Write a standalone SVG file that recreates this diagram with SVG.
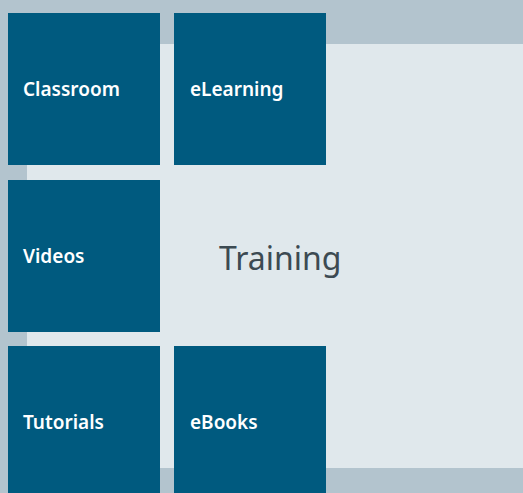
<svg xmlns="http://www.w3.org/2000/svg" width="523" height="493" viewBox="0 0 523 493">
<style>
.tile{fill:#005a7f}
.lbl{font-family:"Noto Sans","Open Sans",sans-serif;font-size:19px;font-weight:600;fill:#ffffff}
.title{font-family:"Noto Sans","Open Sans",sans-serif;font-size:32px;fill:#3c4a52}
</style>
<rect width="523" height="493" fill="#b3c4ce"/>
<rect x="27" y="44" width="496" height="424" fill="#e0e8ec"/>
<g id="connectors"/>
<g id="training"><text class="title" x="219" y="270">Training</text></g>
<g id="classroom"><rect class="tile" x="8" y="13" width="152" height="152"/><text class="lbl" x="23" y="96">Classroom</text></g>
<g id="elearning"><rect class="tile" x="174" y="13" width="152" height="152"/><text class="lbl" x="190" y="96">eLearning</text></g>
<g id="videos"><rect class="tile" x="8" y="180" width="152" height="152"/><text class="lbl" x="23" y="263">Videos</text></g>
<g id="tutorials"><rect class="tile" x="8" y="346" width="152" height="152"/><text class="lbl" x="23" y="429">Tutorials</text></g>
<g id="ebooks"><rect class="tile" x="174" y="346" width="152" height="152"/><text class="lbl" x="190" y="429">eBooks</text></g>
</svg>
